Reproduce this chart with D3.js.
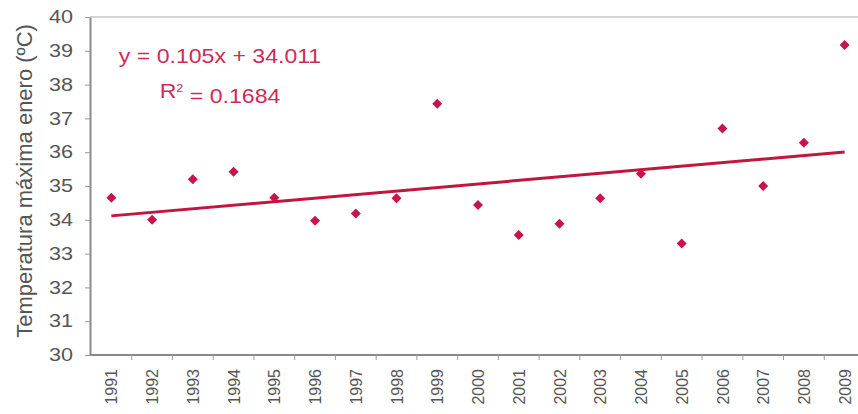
<!DOCTYPE html>
<html>
<head>
<meta charset="utf-8">
<script src="https://cdn.jsdelivr.net/npm/d3@7"></script>
<style>
  body { margin: 0; background: #fff; }
  text { font-family: "Liberation Sans", Arial, sans-serif; }
</style>
</head>
<body>
<script>
// January maximum temperature per year
var years = ["1991","1992","1993","1994","1995","1996","1997","1998","1999","2000",
             "2001","2002","2003","2004","2005","2006","2007","2008","2009"];
var tmax = [34.65, 34.0, 35.2, 35.42, 34.65, 33.97, 34.19, 34.64, 37.43, 34.44,
            33.55, 33.88, 34.64, 35.36, 33.3, 36.7, 35.0, 36.28, 39.17];
var yTicks = [30, 31, 32, 33, 34, 35, 36, 37, 38, 39, 40];

// linear trend as shown on the chart (x = 1..19)
var slope = 0.105, intercept = 34.011, r2 = 0.1684;
var yTitle = "Temperatura máxima enero (ºC)";

var width = 858, height = 414;
var red = "#c8144a";

var svg = d3.select("body").append("svg")
    .attr("width", width)
    .attr("height", height);

var x = d3.scalePoint().domain(years).range([91, 865]).padding(0.5);
var y = d3.scaleLinear().domain([30, 40]).range([355, 17]);

// top frame line
svg.append("line")
    .attr("x1", 90).attr("x2", width)
    .attr("y1", y(40)).attr("y2", y(40))
    .attr("stroke", "#c4c4c4").attr("stroke-width", 1.5);

// y axis
var yAxis = svg.append("g")
    .attr("transform", "translate(90,0)")
    .call(d3.axisLeft(y).tickValues(yTicks).tickSize(5).tickSizeOuter(0));
yAxis.select(".domain").attr("stroke", "#8a8a8a").attr("stroke-width", 2);
yAxis.selectAll(".tick line").attr("stroke", "#999");
yAxis.selectAll(".tick text")
    .attr("x", -17 / 1.2)
    .attr("transform", "scale(1.2,1)")
    .style("font-size", "18px")
    .attr("fill", "#555");

// x axis
var xAxis = svg.append("g")
    .attr("transform", "translate(0," + y(30) + ")")
    .call(d3.axisBottom(x).tickSize(0).tickSizeOuter(0));
xAxis.select(".domain").attr("stroke", "#8a8a8a").attr("stroke-width", 2)
    .attr("d", "M90,0H" + width);
xAxis.selectAll(".tick text")
    .attr("transform", "rotate(-90)")
    .attr("text-anchor", "end")
    .attr("x", -14)
    .attr("y", 0)
    .attr("dy", "0.35em")
    .style("font-size", "16px")
    .attr("fill", "#555");

// category boundary ticks
xAxis.selectAll(".sep")
    .data(years.slice(1))
    .enter().append("line")
    .attr("class", "sep")
    .attr("x1", function(d) { return x(d) - x.step() / 2; })
    .attr("x2", function(d) { return x(d) - x.step() / 2; })
    .attr("y1", 0).attr("y2", 5)
    .attr("stroke", "#999");

// trend line
var trend = d3.line()
    .x(function(d) { return x(d); })
    .y(function(d, i) { return y(slope * (i + 1) + intercept); });

svg.append("path")
    .datum([years[0], years[years.length - 1]])
    .attr("d", function(d) {
        return d3.line()
            .x(function(v) { return x(v); })
            .y(function(v) { return y(slope * (years.indexOf(v) + 1) + intercept); })(d);
    })
    .attr("fill", "none")
    .attr("stroke", "#c0163f")
    .attr("stroke-width", 3);

// points
svg.selectAll(".pt")
    .data(tmax)
    .enter().append("path")
    .attr("class", "pt")
    .attr("d", d3.symbol(d3.symbolSquare, 50))
    .attr("transform", function(d, i) {
        return "translate(" + x(years[i]) + "," + y(d) + ") rotate(45)";
    })
    .attr("fill", red);

// equation
var eq = svg.append("g").attr("fill", "#d02a5a").style("font-size", "20px");
eq.append("text")
    .attr("transform", "translate(220,63) scale(1.155,1)")
    .attr("text-anchor", "middle")
    .text("y = " + slope + "x + " + intercept.toFixed(3));
var r2t = eq.append("text")
    .attr("transform", "translate(220,98) scale(1.155,1)")
    .attr("text-anchor", "middle");
r2t.append("tspan").text("R");
r2t.append("tspan").attr("dy", "-0.55em").style("font-size", "11px").text("2");
r2t.append("tspan").attr("dy", "0.55em").text(" = " + r2);

// y axis title
svg.append("text")
    .attr("transform", "translate(24,181) rotate(-90)")
    .attr("text-anchor", "middle")
    .attr("dy", "0.35em")
    .style("font-size", "22px")
    .attr("fill", "#555")
    .text(yTitle);
</script>
</body>
</html>
